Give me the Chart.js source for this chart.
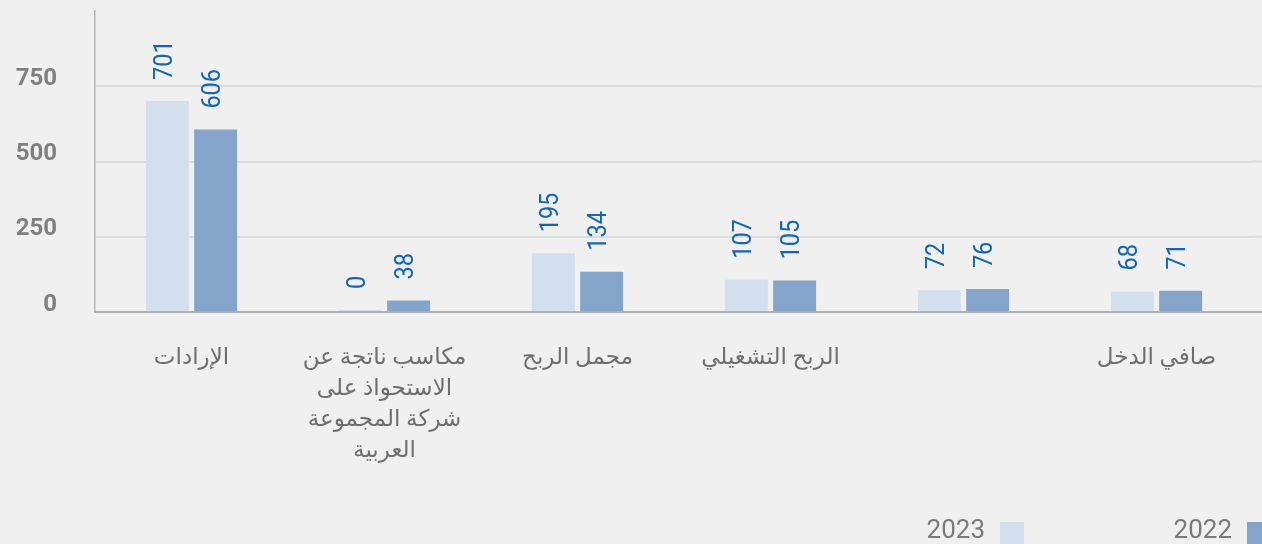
<!DOCTYPE html>
<html lang="ar">
<head>
<meta charset="utf-8">
<script src="https://cdn.jsdelivr.net/npm/chart.js@4.4.1/dist/chart.umd.min.js"></script>
<style>
  html, body { margin: 0; padding: 0; background: #f0f0f0; }
  canvas { display: block; }
</style>
</head>
<body>
<canvas id="finChart" width="1262" height="544"></canvas>
<script>
const categories = [
  "الإرادات",
  ["مكاسب ناتجة عن", "الاستحواذ على", "شركة المجموعة", "العربية"],
  "مجمل الربح",
  "الربح التشغيلي",
  "",
  "صافي الدخل",
];
const values2023 = [701, 0, 195, 107, 72, 68];
const values2022 = [606, 38, 134, 105, 76, 71];
const seriesNames = ["2023", "2022"];
const yTicks = [0, 250, 500, 750];
const yMax = 1000;

const colorLight = "#d3dfec";
const colorDark = "#85a4ca";
const gridColor = "#dcdcdc";
const axisColor = "#b0b0b0";

Chart.defaults.font.family = 'Roboto, "DejaVu Sans", sans-serif';

// the grid and the base line run on to the right edge of the page
const extendLines = {
  id: "extendLines",
  beforeDatasetsDraw(chart) {
    const ctx = chart.ctx;
    const y = chart.scales.y;
    const right = chart.chartArea.right;
    ctx.save();
    yTicks.forEach((v) => {
      const py = y.getPixelForValue(v);
      ctx.strokeStyle = v === 0 ? axisColor : gridColor;
      ctx.lineWidth = 2;
      ctx.beginPath();
      ctx.moveTo(right - 1, py);
      ctx.lineTo(chart.width, py);
      ctx.stroke();
    });
    ctx.restore();
  },
};

// rotated numbers above each bar
const valueLabels = {
  id: "valueLabels",
  afterDatasetsDraw(chart) {
    const ctx = chart.ctx;
    ctx.save();
    ctx.fillStyle = "#1565b5";
    ctx.font = "25px Roboto";
    ctx.textAlign = "left";
    ctx.textBaseline = "middle";
    chart.data.datasets.forEach((ds, i) => {
      chart.getDatasetMeta(i).data.forEach((bar, j) => {
        ctx.save();
        ctx.translate(bar.x - 2, bar.y - 21);
        ctx.rotate(-Math.PI / 2);
        ctx.scale(0.94, 1);
        ctx.fillText(ds.data[j], 0, 0);
        ctx.restore();
      });
    });
    ctx.restore();
  },
};

// legend at the bottom right, box on the right of the text
const bottomLegend = {
  id: "bottomLegend",
  afterDraw(chart) {
    const ctx = chart.ctx;
    const n = chart.data.datasets.length;
    ctx.save();
    ctx.font = "26px Roboto";
    ctx.textAlign = "right";
    ctx.textBaseline = "middle";
    chart.data.datasets.forEach((ds, i) => {
      const boxX = chart.width - 15 - (n - 1 - i) * 247;
      ctx.fillStyle = ds.backgroundColor;
      ctx.fillRect(boxX, 522, 24, 24);
      ctx.fillStyle = "#7a7a7a";
      ctx.fillText(ds.label, boxX - 15, 531);
    });
    ctx.restore();
  },
};

const ctx = document.getElementById("finChart").getContext("2d");
const finChart = new Chart(ctx, {
  type: "bar",
  data: {
    labels: categories,
    datasets: [
      {
        label: seriesNames[0],
        data: values2023,
        backgroundColor: colorLight,
        minBarLength: 2,
        categoryPercentage: 0.5,
        barPercentage: 0.89,
      },
      {
        label: seriesNames[1],
        data: values2022,
        backgroundColor: colorDark,
        minBarLength: 2,
        categoryPercentage: 0.5,
        barPercentage: 0.89,
      },
    ],
  },
  options: {
    responsive: false,
    animation: false,
    layout: { padding: { top: 11, right: 9, left: 0, bottom: 0 } },
    plugins: {
      legend: { display: false },
      tooltip: { enabled: false },
    },
    scales: {
      x: {
        grid: { display: false },
        border: { color: axisColor, width: 2 },
        ticks: {
          color: "#6e6e6e",
          font: { size: 23, lineHeight: "31px" },
          padding: 23,
          maxRotation: 0,
          autoSkip: false,
        },
        afterFit: (scale) => {
          scale.height = 232;
          scale.paddingLeft = 0;
          scale.paddingRight = 0;
        },
      },
      y: {
        min: 0,
        max: yMax,
        grid: {
          drawTicks: false,
          lineWidth: 2,
          color: (c) =>
            c.tick && yTicks.includes(c.tick.value) ? gridColor : "transparent",
        },
        border: { color: "#b5b5b5", width: 1.5 },
        ticks: {
          stepSize: 250,
          padding: 38,
          color: "#7f7f7f",
          font: { size: 24, weight: "bold", lineHeight: "15px" },
          callback: function (value) {
            if (yTicks.includes(value)) {
              return [String(value), ""];
            }
            return "";
          },
        },
        afterFit: (scale) => {
          scale.width = 95;
          scale.paddingTop = 0;
          scale.paddingBottom = 0;
        },
      },
    },
  },
  plugins: [extendLines, valueLabels, bottomLegend],
});
</script>
</body>
</html>
